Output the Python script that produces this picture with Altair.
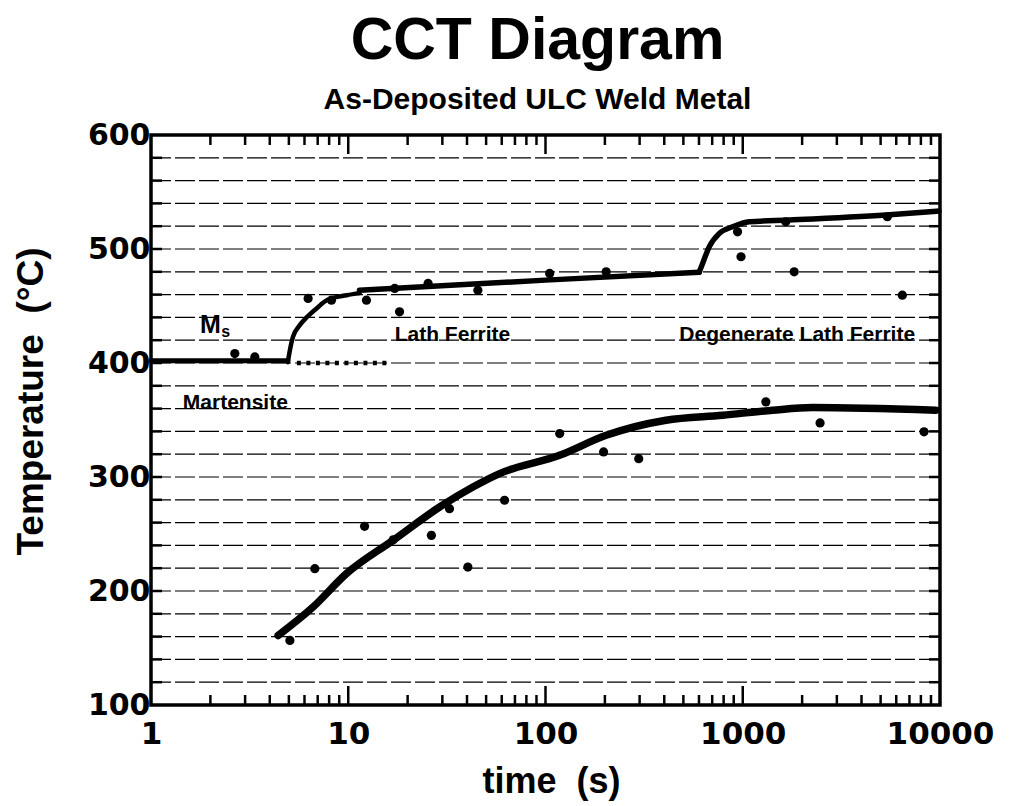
import altair as alt
import pandas as pd

# ---------------- data ----------------
ms_t = [1.0, 4.94]
ms_T = [402.0, 402.0]

dotted_t = [5.49, 16.2]
dotted_T = [400.0, 400.0]

rise1_t = [4.94, 5.06, 5.24, 5.68, 6.17, 6.93, 7.78, 9.83, 11.43]
rise1_T = [400.7, 411.2, 422.6, 433.2, 440.2, 448.1, 455.1, 459.5, 461.3]

lath_t = [11.4, 100.0, 602.0]
lath_T = [463.9, 472.7, 479.7]

rise2_t = [602, 626, 676, 761, 888, 1079, 1719, 5330, 9886]
rise2_T = [479.7, 487.4, 501.9, 513.7, 519.5, 523.9, 525.4, 529.8, 533.3]

lower_t = [4.41, 6.63, 9.79, 16.86, 29.06, 42.85, 58.5, 117.8, 203, 408, 791, 1416, 2254, 9510]
lower_T = [161.0, 185.9, 215.2, 244.4, 273.7, 291.2, 303.0, 319.0, 336.6, 349.8, 354.2, 358.6, 360.9, 358.6]

pts_t = [2.66, 3.36, 6.26, 8.22, 12.37, 17.2, 18.2, 25.4, 45.4, 105, 203, 941, 980, 1652, 1823, 5408, 6443,
         5.06, 6.77, 12.1, 16.9, 26.4, 32.6, 40.4, 62, 118, 197, 297, 1310, 2466, 8300]
pts_T = [408.3, 405.3, 456.6, 455.1, 455.1, 465.4, 444.9, 469.8, 463.9, 478.6, 480, 515.1, 493.2, 523.9, 480, 528.3, 459.5,
         156.6, 219.6, 256.7, 244.9, 248.8, 272.2, 221, 279.6, 338.1, 322, 316.1, 365.9, 347.4, 339.6]

ann_text = ["M", "s", "Lath Ferrite", "Degenerate Lath Ferrite", "Martensite"]
ann_t = [1.77, 2.27, 17.2, 477.0, 1.45]
ann_T = [426.0, 422.5, 419.0, 419.0, 359.5]
ann_size = [25, 16, 21, 21, 21]

y_labels = [100, 200, 300, 400, 500, 600]
x_labels = [1, 10, 100, 1000, 10000]
grid_T = [v for v in range(120, 600, 20)]
x_minor = [k * 10 ** d for d in range(0, 4) for k in range(2, 10)]
x_major = [10, 100, 1000]

W, H = 789, 570

# ---------------- scales / axes ----------------
xs = alt.Scale(type="log", domain=[1, 10000], nice=False)
ys = alt.Scale(domain=[100, 600], nice=False, zero=False)

xaxis = alt.Axis(values=x_labels, format="d", title="time \u00a0(s)", labelFont="DejaVu Sans",
                 labelFontWeight="bold", labelFontSize=31, labelColor="black", labelPadding=14,
                 ticks=False, domain=False, grid=False, labelFlush=False,
                 titleFont="Liberation Sans", titleFontSize=36, titleFontWeight="bold",
                 titleColor="black", titleX=400, titleY=87, titleAlign="center",
                 titleBaseline="alphabetic")
yaxis = alt.Axis(values=y_labels, format="d", title="Temperature \u00a0(°C)", labelFont="DejaVu Sans",
                 labelFontWeight="bold", labelFontSize=30, labelColor="black", labelPadding=1,
                 ticks=False, domain=False, grid=False,
                 titleFont="Liberation Sans", titleFontSize=37, titleFontWeight="bold",
                 titleColor="black", titleX=-109, titleY=266, titleAngle=-90,
                 titleAlign="center", titleBaseline="alphabetic")


def X(field="t"):
    return alt.X(f"{field}:Q", scale=xs, axis=xaxis)


def Y(field="T"):
    return alt.Y(f"{field}:Q", scale=ys, axis=yaxis)


# ---------------- layers ----------------
grid_df = pd.DataFrame({"T": grid_T})
grid = alt.Chart(grid_df).mark_rule(color="black", strokeWidth=1.2, strokeDash=[20, 4]).encode(
    y=Y(), x=alt.value(0), x2=alt.value(W))
yt_left = alt.Chart(grid_df).mark_rule(color="black", strokeWidth=2.5).encode(
    y=Y(), x=alt.value(0), x2=alt.value(11))
yt_right = alt.Chart(grid_df).mark_rule(color="black", strokeWidth=2.5).encode(
    y=Y(), x=alt.value(W - 11), x2=alt.value(W))

minor_df = pd.DataFrame({"t": x_minor})
major_df = pd.DataFrame({"t": x_major})
xt_bot_minor = alt.Chart(minor_df).mark_rule(color="black", strokeWidth=2.5).encode(
    x=X(), y=alt.value(H), y2=alt.value(H - 10))
xt_top_minor = alt.Chart(minor_df).mark_rule(color="black", strokeWidth=2.5).encode(
    x=X(), y=alt.value(0), y2=alt.value(10))
xt_bot_major = alt.Chart(major_df).mark_rule(color="black", strokeWidth=2.5).encode(
    x=X(), y=alt.value(H), y2=alt.value(H - 19))
xt_top_major = alt.Chart(major_df).mark_rule(color="black", strokeWidth=2.5).encode(
    x=X(), y=alt.value(0), y2=alt.value(19))

frame = alt.Chart(pd.DataFrame({"k": [0]})).mark_rect(
    fill=None, fillOpacity=0, stroke="black", strokeWidth=3.5).encode(
    x=alt.value(0), x2=alt.value(W), y=alt.value(0), y2=alt.value(H))


def line(ts, Ts, width, interp="monotone", dash=None):
    df = pd.DataFrame({"t": ts, "T": Ts})
    kw = dict(color="black", strokeWidth=width, interpolate=interp, strokeCap="round")
    if dash is not None:
        kw["strokeDash"] = dash
        kw["strokeCap"] = "butt"
    return alt.Chart(df).mark_line(**kw).encode(x=X(), y=Y())


ms_line = line(ms_t, ms_T, 5, "linear")
dotted = line(dotted_t, dotted_T, 4.5, "linear", dash=[4, 5.5])
rise1 = line(rise1_t, rise1_T, 4.5)
lath = line(lath_t, lath_T, 5.5, "linear")
rise2 = line(rise2_t, rise2_T, 5.5)
lower = line(lower_t, lower_T, 7.5)

pts = alt.Chart(pd.DataFrame({"t": pts_t, "T": pts_T})).mark_circle(
    color="black", opacity=1, size=85).encode(x=X(), y=Y())

ann = alt.Chart(pd.DataFrame({"label": ann_text, "t": ann_t, "T": ann_T, "fs": ann_size})).mark_text(
    align="left", baseline="alphabetic", font="Liberation Sans", fontWeight="bold", color="black"
).encode(x=X(), y=Y(), text="label:N", size=alt.Size("fs:Q", scale=None, legend=None))

chart = alt.layer(
    grid, yt_left, yt_right, xt_bot_minor, xt_top_minor, xt_bot_major, xt_top_major,
    ms_line, dotted, rise1, lath, rise2, lower, pts, ann, frame
).properties(
    width=W, height=H,
    autosize=alt.AutoSizeParams(type="none"),
    padding={"left": 151, "top": 135, "right": 76, "bottom": 101},
    title=alt.TitleParams(
        text="CCT Diagram", subtitle="As-Deposited ULC Weld Metal",
        font="Liberation Sans", fontSize=59, fontWeight="bold", color="black",
        subtitleFont="Liberation Sans", subtitleFontSize=30, subtitleFontWeight="bold",
        subtitleColor="black", subtitlePadding=14, anchor="middle", offset=5, dx=-8),
).configure_view(stroke="black", strokeWidth=3).configure(background="white")

chart.save("out.html", embed_options={"renderer": "svg", "actions": False})
